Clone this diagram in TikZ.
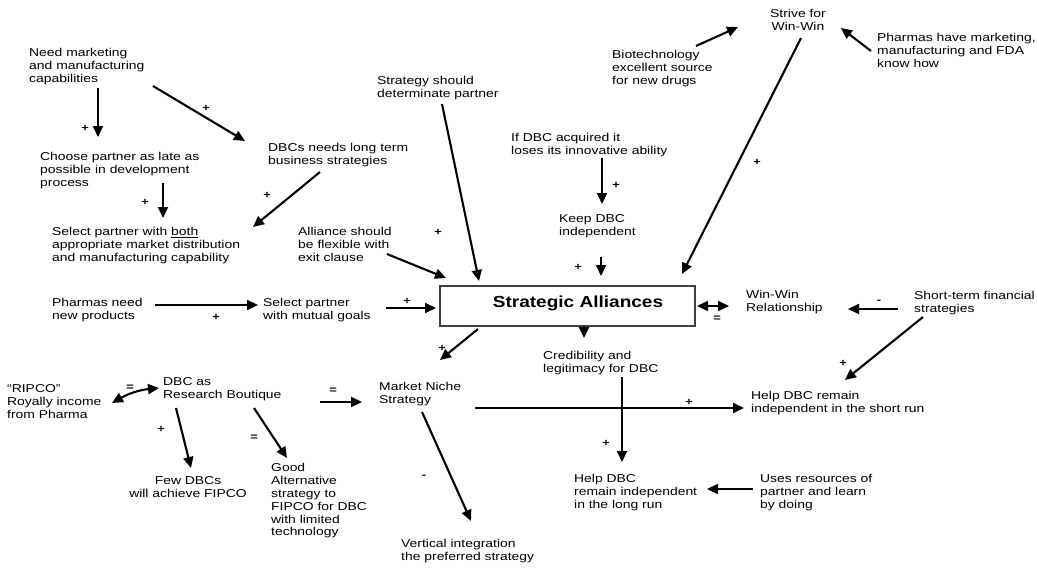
\documentclass[tikz,border=0pt]{standalone}
\usepackage{fontspec}
\newfontfamily\tfont{Liberation Sans}[FakeStretch=1.22]
\newfontfamily\hfont{Liberation Sans}[FakeStretch=1.19]
\usetikzlibrary{arrows.meta}
\begin{document}
\begin{tikzpicture}[x=1pt,y=-1pt,
  txt/.style={inner sep=0pt, align=left, anchor=north west, font=\tfont\fontsize{11.4}{13}\selectfont},
  ctxt/.style={txt, align=center, anchor=north},
  sgn/.style={inner sep=0pt, font=\tfont\bfseries\fontsize{10.5}{12}\selectfont},
  arr/.style={line width=2.1pt, -{Triangle[length=11pt,width=10pt]}},
  darr/.style={line width=2.1pt, {Triangle[length=11pt,width=10pt]}-{Triangle[length=11pt,width=10pt]}},
  sabox/.style={draw=black!75, line width=1.4pt, minimum width=255pt, minimum height=40pt, inner sep=0pt},
  title/.style={inner sep=0pt, font=\hfont\bfseries\fontsize{16}{19}\selectfont}
  ]
\useasboundingbox (0,0) rectangle (1037,570);
\fill[white] (0,0) rectangle (1037,570);

% ---------- text nodes ----------
\node[txt] (need) at (29,48.5) {Need marketing\\and manufacturing\\capabilities};
\node[txt] (choose) at (40,152.5) {Choose partner as late as\\possible in development\\process};
\node[txt] (dbcs) at (268,143.5) {DBCs needs long term\\business strategies};
\node[txt] (selboth) at (52,227.5) {Select partner with \underline{both}\\appropriate market distribution\\and manufacturing capability};
\node[txt] (alliance) at (298,227.5) {Alliance should\\be flexible with\\exit clause};
\node[txt] (strategy) at (377,76.5) {Strategy should\\determinate partner};
\node[txt] (ifdbc) at (511,133.5) {If DBC acquired it\\loses its innovative ability};
\node[txt] (keep) at (559,214.5) {Keep DBC\\independent};
\node[txt] (pharneed) at (52,298.5) {Pharmas need\\new products};
\node[txt] (mutual) at (263,298.5) {Select partner\\with mutual goals};
\node[sabox] (sa) at (567.5,306) {};
\node[title] (satitle) at (578,303.5) {Strategic Alliances};
\node[txt] (winwin) at (746,290.5) {Win-Win\\Relationship};
\node[txt] (shortterm) at (914,291.5) {Short-term financial\\strategies};
\node[ctxt] (strive) at (798,9.5) {Strive for\\Win-Win};
\node[txt] (biotech) at (612,50.5) {Biotechnology\\excellent source\\for new drugs};
\node[txt] (pharhave) at (877,33.5) {Pharmas have marketing,\\manufacturing and FDA\\know how};
\node[txt] (cred) at (543,351.5) {Credibility and\\legitimacy for DBC};
\node[txt] (helpshort) at (751,391.5) {Help DBC remain\\independent in the short run};
\node[txt] (helplong) at (574,474.5) {Help DBC\\remain independent\\in the long run};
\node[txt] (uses) at (760,474.5) {Uses resources of\\partner and learn\\by doing};
\node[txt] (niche) at (379,382.5) {Market Niche\\Strategy};
\node[txt] (vertical) at (401,539.5) {Vertical integration\\the preferred strategy};
\node[txt] (ripco) at (7,384.5) {“RIPCO”\\Royally income\\from Pharma};
\node[txt] (boutique) at (163,377.5) {DBC as\\Research Boutique};
\node[ctxt] (few) at (188,476.5) {Few DBCs\\will achieve FIPCO};
\node[txt, font=\tfont\fontsize{11.4}{12.8}\selectfont] (good) at (271,463.5) {Good\\Alternative\\strategy to\\FIPCO for DBC\\with limited\\technology};

% ---------- connector end points ----------
\coordinate (need-s) at (98,88);   \coordinate (choose-n) at (98,137);
\coordinate (need-e) at (153,86);  \coordinate (dbcs-w) at (245,141);
\coordinate (choose-s) at (163,183); \coordinate (selboth-n) at (163,218);
\coordinate (dbcs-s) at (320,172); \coordinate (selboth-e) at (253,227);
\coordinate (alliance-e) at (387,254); \coordinate (sa-nw) at (446,278);
\coordinate (strategy-s) at (442,104); \coordinate (sa-n1) at (479,281);
\coordinate (ifdbc-s) at (602,158); \coordinate (keep-n) at (602,204);
\coordinate (keep-s) at (601,257); \coordinate (sa-n2) at (601,276);
\coordinate (pharneed-e) at (155,305); \coordinate (mutual-w) at (258,305);
\coordinate (mutual-e) at (386,308); \coordinate (sa-w) at (436,308);
\coordinate (strive-s) at (801,38); \coordinate (sa-n3) at (682,274);
\coordinate (biotech-n) at (696,46); \coordinate (strive-w) at (738,27);
\coordinate (pharhave-w) at (871,51); \coordinate (strive-e) at (841,28);
\coordinate (sa-e) at (697,306); \coordinate (winwin-w) at (729,306);
\coordinate (shortterm-w) at (898,309); \coordinate (winwin-e) at (848,309);
\coordinate (shortterm-s) at (923,317); \coordinate (helpshort-n) at (845,380);
\coordinate (sa-sw) at (478,329); \coordinate (niche-n) at (440,360);
\coordinate (sa-s) at (584,326); \coordinate (cred-n) at (584,338);
\coordinate (cred-s) at (622,377); \coordinate (helplong-n) at (622,462);
\coordinate (niche-e) at (475,408); \coordinate (helpshort-w) at (744,408);
\coordinate (uses-w) at (753,489); \coordinate (helplong-e) at (707,489);
\coordinate (niche-s) at (422,412); \coordinate (vertical-n) at (471,521);
\coordinate (ripco-e) at (112,403); \coordinate (boutique-w) at (159,388);
\coordinate (boutique-e) at (320,402); \coordinate (niche-w) at (362,402);
\coordinate (boutique-s1) at (176,408); \coordinate (few-n) at (191,468);
\coordinate (boutique-s2) at (254,408); \coordinate (good-n) at (287,458);

% ---------- connectors ----------
\draw[arr] (need-s) -- (choose-n);
\draw[arr] (need-e) -- (dbcs-w);
\draw[arr] (choose-s) -- (selboth-n);
\draw[arr] (dbcs-s) -- (selboth-e);
\draw[arr] (alliance-e) -- (sa-nw);
\draw[arr] (strategy-s) -- (sa-n1);
\draw[arr] (ifdbc-s) -- (keep-n);
\draw[arr] (keep-s) -- (sa-n2);
\draw[arr] (pharneed-e) -- (mutual-w);
\draw[arr] (mutual-e) -- (sa-w);
\draw[arr] (strive-s) -- (sa-n3);
\draw[arr] (biotech-n) -- (strive-w);
\draw[arr] (pharhave-w) -- (strive-e);
\draw[darr] (sa-e) -- (winwin-w);
\draw[arr] (shortterm-w) -- (winwin-e);
\draw[arr] (shortterm-s) -- (helpshort-n);
\draw[arr] (sa-sw) -- (niche-n);
\draw[arr] (sa-s) -- (cred-n);
\draw[arr] (cred-s) -- (helplong-n);
\draw[arr] (niche-e) -- (helpshort-w);
\draw[arr] (uses-w) -- (helplong-e);
\draw[arr] (niche-s) -- (vertical-n);
\draw[darr] (ripco-e) to[bend left=12] (boutique-w);
\draw[arr] (boutique-e) -- (niche-w);
\draw[arr] (boutique-s1) -- (few-n);
\draw[arr] (boutique-s2) -- (good-n);

% ---------- signs ----------
\node[sgn] (s1) at (85,128) {+};
\node[sgn] (s2) at (206,108) {+};
\node[sgn] (s3) at (145,202) {+};
\node[sgn] (s4) at (267,195) {+};
\node[sgn] (s5) at (438,232) {+};
\node[sgn] (s6) at (616,185) {+};
\node[sgn] (s7) at (578,267) {+};
\node[sgn] (s8) at (216,317) {+};
\node[sgn] (s9) at (407,301) {+};
\node[sgn] (s10) at (757,162) {+};
\node[sgn] (s11) at (717,319) {=};
\node[sgn] (s12) at (879,302) {-};
\node[sgn] (s13) at (843,363) {+};
\node[sgn] (s14) at (442,348) {+};
\node[sgn] (s15) at (606,443) {+};
\node[sgn] (s16) at (689,402) {+};
\node[sgn] (s17) at (424,477) {-};
\node[sgn] (s18) at (130,388) {=};
\node[sgn] (s19) at (333,391) {=};
\node[sgn] (s20) at (161,429) {+};
\node[sgn] (s21) at (254,438) {=};
\end{tikzpicture}
\end{document}
